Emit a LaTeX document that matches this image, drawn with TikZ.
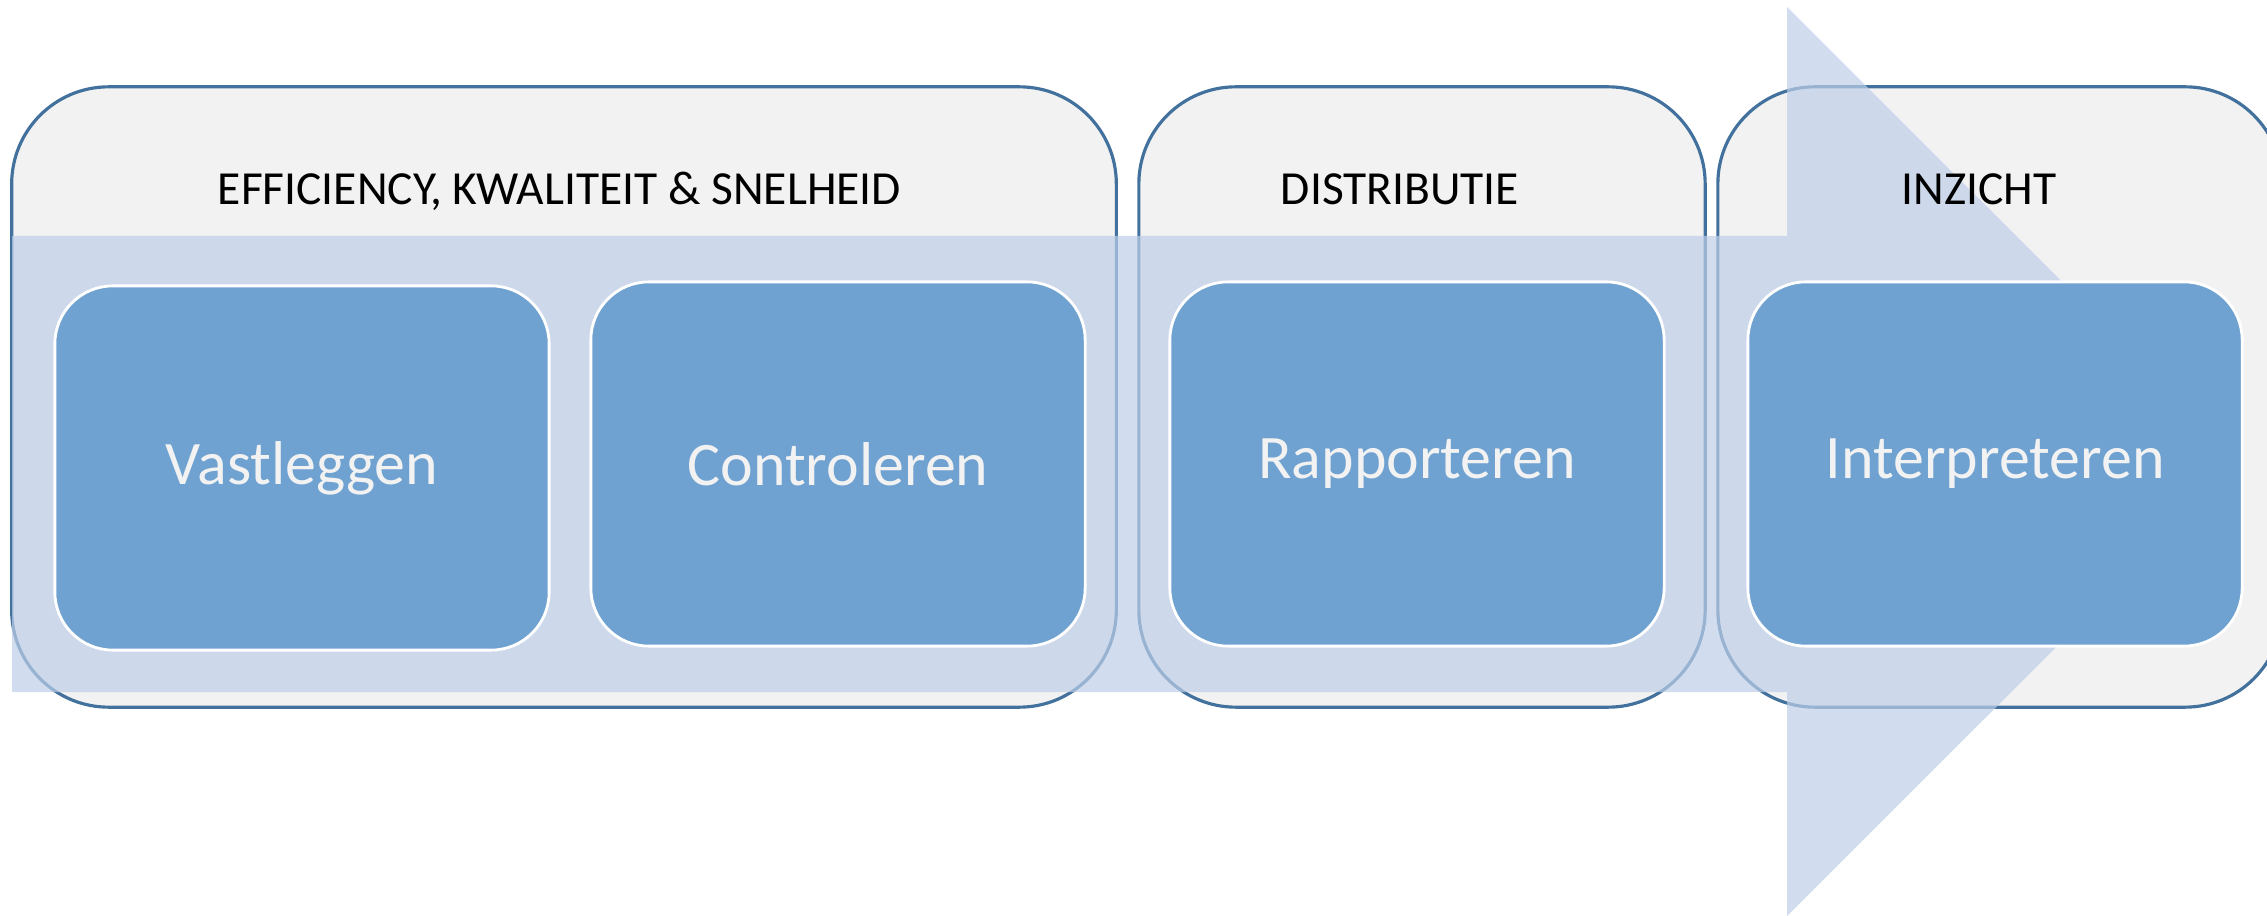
\documentclass[tikz,border=0pt]{standalone}
\usepackage{fontspec}
\setmainfont{Carlito}
\usepackage{tikz}
\definecolor{boxline}{HTML}{41719C}
\definecolor{boxfill}{HTML}{F2F2F2}
\definecolor{arrowfill}{HTML}{BECFE8}
\definecolor{stepfill}{HTML}{6FA2D0}
\begin{document}
\begin{tikzpicture}[x=0.01cm,y=-0.01cm,
	phase/.style={draw=boxline, line width=0.9pt, fill=boxfill, rounded corners=0.97cm, minimum height=6.2cm, inner sep=0pt, outer sep=0pt},
	stepbox/.style={draw=white, line width=0.8pt, fill=stepfill, rounded corners=0.58cm, minimum width=4.94cm, minimum height=3.64cm, inner sep=0pt, outer sep=0pt, text=boxfill, font=\fontsize{17.6}{21}\selectfont},
	heading/.style={inner sep=0pt, anchor=base, font=\fontsize{13.5}{16}\selectfont}]
	\useasboundingbox (0,0) rectangle (2267,916);
	\clip (0,0) rectangle (2267,916);
	\node[phase, minimum width=11.04cm] (eff) at (564,397) {};
	\node[phase, minimum width=5.66cm] (dis) at (1422,397) {};
	\node[phase, minimum width=5.64cm] (inz) at (2000,397) {};
	\fill[arrowfill, opacity=0.7] (12,236) -- (1787,236) -- (1787,7) -- (2242,461.5) -- (1787,916) -- (1787,692) -- (12,692) -- cycle;
	\node[heading] (effh) at (559.5,205) {EFFICIENCY, KWALITEIT \& SNELHEID};
	\node[heading] (dish) at (1400,205) {DISTRIBUTIE};
	\node[heading] (inzh) at (1979,205) {INZICHT};
	\node[stepbox] (vast) at (302,468) {Vastleggen};
	\node[stepbox] (contr) at (838,464) {Controleren};
	\node[stepbox] (rapp) at (1417,464) {Rapporteren};
	\node[stepbox] (interp) at (1995,464) {Interpreteren};
\end{tikzpicture}
\end{document}
